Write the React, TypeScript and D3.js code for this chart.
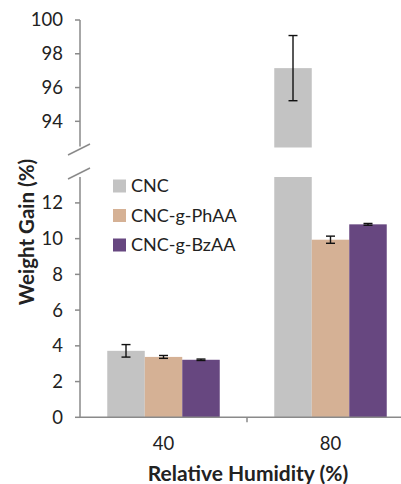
import React from "react";
import * as d3 from "d3";

const categories = ["40", "80"];
const series = ["CNC", "CNC-g-PhAA", "CNC-g-BzAA"];
const values = [
  [3.72, 97.15],
  [3.38, 9.94],
  [3.22, 10.8],
];
const errors = [
  [0.35, 1.93],
  [0.08, 0.2],
  [0.04, 0.05],
];
const topTicks = [94, 96, 98, 100];
const bottomTicks = [0, 2, 4, 6, 8, 10, 12];
const colors = ["#c3c3c3", "#d5b195", "#674780"];

const W = 401;
const H = 484;
const FONT = "Lato, 'Open Sans', sans-serif";

export default function App() {
  const axisX = 80;
  const x0 = d3.scaleBand<string>().domain(categories).range([axisX, 414]).padding(0);
  const inner = d3
    .scaleBand<string>()
    .domain(series)
    .range([0, x0.bandwidth()])
    .paddingInner(0)
    .paddingOuter(0.727);

  const yTop = d3.scaleLinear().domain([92.45, 100]).range([147.5, 20]);
  const yBot = d3.scaleLinear().domain([0, 13.45]).range([417.3, 177]);
  const topMin = 92.45;
  const botMax = 13.45;
  const axisColor = "#8a8a8a";

  const bars: React.ReactNode[] = [];
  const errs: React.ReactNode[] = [];
  series.forEach((s, si) => {
    categories.forEach((c, ci) => {
      const v = values[si][ci];
      const e = errors[si][ci];
      const bx = (x0(c) ?? 0) + (inner(s) ?? 0);
      const bw = inner.bandwidth();
      const cx = bx + bw / 2;
      let y1: number, y2: number;
      if (v > botMax) {
        bars.push(
          <rect key={`b1-${si}-${ci}`} x={bx} y={yTop(v)} width={bw} height={yTop(topMin) - yTop(v)} fill={colors[si]} />
        );
        bars.push(
          <rect key={`b2-${si}-${ci}`} x={bx} y={yBot(botMax)} width={bw} height={yBot(0) - yBot(botMax)} fill={colors[si]} />
        );
        y1 = yTop(v + e);
        y2 = yTop(v - e);
      } else {
        bars.push(
          <rect key={`b-${si}-${ci}`} x={bx} y={yBot(v)} width={bw} height={yBot(0) - yBot(v)} fill={colors[si]} />
        );
        y1 = yBot(v + e);
        y2 = yBot(v - e);
      }
      errs.push(
        <g key={`e-${si}-${ci}`} stroke="#111" strokeWidth={1.4}>
          <line x1={cx} x2={cx} y1={y1} y2={y2} />
          <line x1={cx - 4.5} x2={cx + 4.5} y1={y1} y2={y1} />
          <line x1={cx - 4.5} x2={cx + 4.5} y1={y2} y2={y2} />
        </g>
      );
    });
  });

  return (
    <svg
      width={W}
      height={H}
      style={{ position: "absolute", left: 0, top: 0, background: "#fff" }}
      fontFamily={FONT}
    >
      <rect x={0} y={0} width={W} height={H} fill="#fff" />
      {bars}
      {errs}
      <line x1={axisX} x2={axisX} y1={yTop(100)} y2={yTop(topMin) - 1} stroke={axisColor} strokeWidth={1.5} />
      <line x1={axisX} x2={axisX} y1={yBot(botMax)} y2={yBot(0)} stroke={axisColor} strokeWidth={1.5} />
      {topTicks.map((t) => (
        <g key={`tt-${t}`}>
          <line x1={axisX - 5} x2={axisX} y1={yTop(t)} y2={yTop(t)} stroke={axisColor} strokeWidth={1.5} />
          <text x={63} y={yTop(t)} dy="0.35em" textAnchor="end" fontSize={18.5} fill="#222">
            {t}
          </text>
        </g>
      ))}
      {bottomTicks.map((t) => (
        <g key={`bt-${t}`}>
          <line x1={axisX - 5} x2={axisX} y1={yBot(t)} y2={yBot(t)} stroke={axisColor} strokeWidth={1.5} />
          <text x={63} y={yBot(t)} dy="0.35em" textAnchor="end" fontSize={18.5} fill="#222">
            {t}
          </text>
        </g>
      ))}
      <line x1={68} y1={155} x2={90} y2={144} stroke={axisColor} strokeWidth={1.5} />
      <line x1={68} y1={179} x2={90} y2={168} stroke={axisColor} strokeWidth={1.5} />
      <line x1={axisX} x2={W} y1={yBot(0)} y2={yBot(0)} stroke={axisColor} strokeWidth={1.5} />
      {categories.map((c, i) => (
        <g key={`xc-${c}`}>
          {i > 0 && (
            <line
              x1={x0(c) ?? 0}
              x2={x0(c) ?? 0}
              y1={yBot(0)}
              y2={yBot(0) + 5}
              stroke={axisColor}
              strokeWidth={1.5}
            />
          )}
          <text
            x={(x0(c) ?? 0) + x0.bandwidth() / 2}
            y={444}
            dy="0.35em"
            textAnchor="middle"
            fontSize={18.5}
            fill="#222"
          >
            {c}
          </text>
        </g>
      ))}
      {series.map((s, i) => (
        <g key={`lg-${s}`} transform={`translate(113, ${186 + i * 29.5})`}>
          <rect x={0} y={-6.5} width={13} height={13} fill={colors[i]} />
          <text x={18} y={0} dy="0.35em" fontSize={18} fill="#222">
            {s}
          </text>
        </g>
      ))}
      <text x={248} y={474} dy="0.35em" textAnchor="middle" fontSize={21} fontWeight="bold" fill="#222">
        Relative Humidity (%)
      </text>
      <text
        transform={`translate(27, 232) rotate(-90)`}
        dy="0.35em"
        textAnchor="middle"
        fontSize={20.5}
        fontWeight="bold"
        fill="#222"
      >
        Weight Gain (%)
      </text>
    </svg>
  );
}
